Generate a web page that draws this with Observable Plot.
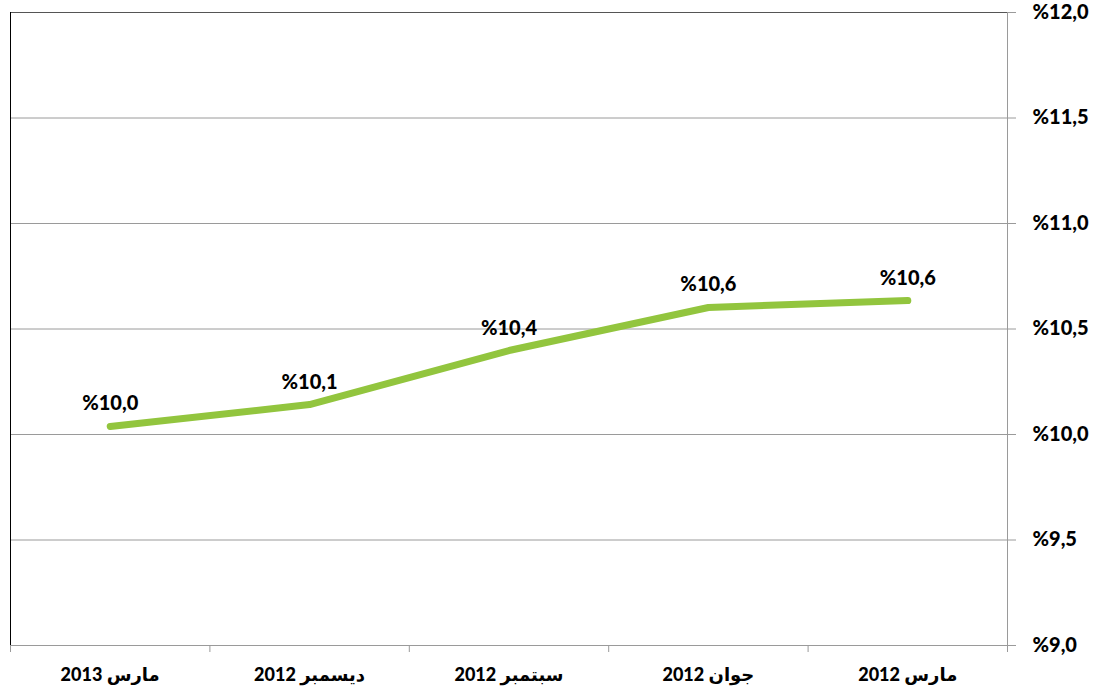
<!DOCTYPE html>
<html><head><meta charset="utf-8">
<script src="https://cdn.jsdelivr.net/npm/d3@7"></script>
<script src="https://cdn.jsdelivr.net/npm/@observablehq/plot@0.6"></script>
<style>
body{margin:0;background:#fff;}
svg text{font-family:Lato,"DejaVu Sans",sans-serif;}
</style>
</head><body>
<div id="chart"></div>
<script>
const categories = ["مارس 2013","ديسمبر 2012","سبتمبر 2012","جوان 2012","مارس 2012"];
const values = [10.038, 10.142, 10.398, 10.602, 10.635];
const labels = ["%10,0","%10,1","%10,4","%10,6","%10,6"];
const yTicks = [9.0, 9.5, 10.0, 10.5, 11.0, 11.5, 12.0];

const data = categories.map((c, i) => ({cat: c, pos: i + 0.5, value: values[i], label: labels[i]}));
const boundaries = d3.range(categories.length + 1);
const centers = categories.map((c, i) => i + 0.5);
const fmt = v => "%" + v.toFixed(1).replace(".", ",");

const plot = Plot.plot({
  width: 1099,
  height: 695,
  marginLeft: 10,
  marginRight: 92,
  marginTop: 12,
  marginBottom: 50,
  style: {background: "#fff", fontFamily: "Lato, 'DejaVu Sans', sans-serif"},
  x: {type: "linear", domain: [0, categories.length]},
  y: {domain: [9, 12]},
  marks: [
    Plot.gridY(yTicks, {stroke: "#9a9a9a", strokeOpacity: 1}),
    Plot.frame({stroke: "#9a9a9a"}),
    Plot.ruleY([12], {stroke: "#555"}),
    Plot.ruleX([0], {stroke: "#000"}),
    Plot.axisY({anchor: "right", ticks: yTicks, tickFormat: fmt, tickSize: 8, tickPadding: 17,
      textAnchor: "start", fontSize: 20, fontWeight: 900, fill: "#000", stroke: "#9a9a9a", label: null}),
    Plot.axisX({ticks: boundaries, tickSize: 7, tickFormat: () => "", stroke: "#9a9a9a", label: null}),
    Plot.axisX({ticks: centers, tickSize: 0, tickPadding: 23, tickFormat: v => categories[Math.floor(v)],
      fontSize: 18, fontWeight: 900, fill: "#000", label: null}),
    Plot.line(data, {x: "pos", y: "value", stroke: "#92C53E", strokeWidth: 7, strokeLinecap: "round", strokeLinejoin: "round"}),
    Plot.text(data, {x: "pos", y: "value", text: "label", lineAnchor: "bottom", dy: -16,
      fontSize: 20, fontWeight: 900, fill: "#000"})
  ]
});
plot.querySelectorAll('g[aria-label="x-axis tick label"] text').forEach(t => {
  t.setAttribute("direction", "rtl");
  t.style.direction = "rtl";
  t.style.unicodeBidi = "embed";
});
document.getElementById("chart").append(plot);
</script>
</body></html>
